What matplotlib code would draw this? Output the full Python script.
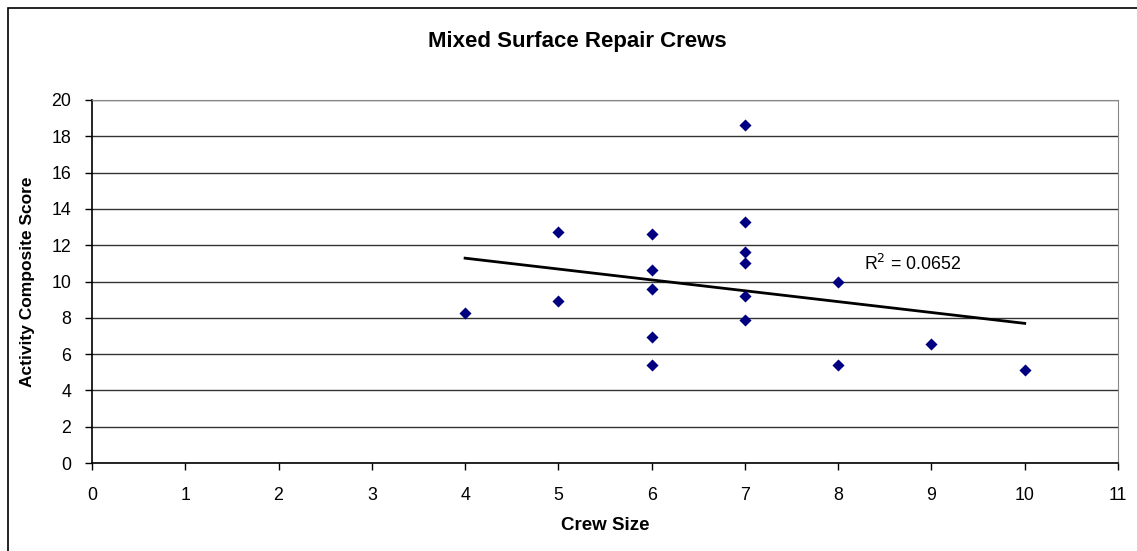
import numpy as np
import matplotlib.pyplot as plt
from matplotlib.patches import Rectangle

plt.rcParams['font.family'] = ['Liberation Sans', 'DejaVu Sans']

# crew size vs. activity composite score
crew_size = [4, 5, 5, 6, 6, 6, 6, 6, 7, 7, 7, 7, 7, 7, 8, 8, 9, 10]
score = [8.25, 12.75, 8.95, 12.6, 10.65, 9.6, 6.95, 5.4,
         18.65, 13.3, 11.6, 11.0, 9.2, 7.9, 9.95, 5.4, 6.55, 5.1]
r2_label = 'R$^2$ = 0.0652'

fig = plt.figure(figsize=(11.37, 5.51), dpi=100)
fig.set_facecolor('white')
ax = fig.add_axes([92 / 1137, 1 - 463 / 551, (1118 - 92) / 1137, 363 / 551])

# outer chart border
fig.patches.append(Rectangle((8 / 1137, -0.1), 1.2, 1 - 8 / 551 + 0.1,
                             transform=fig.transFigure, fill=False,
                             edgecolor='black', linewidth=1.2))

ax.scatter(crew_size, score, marker='D', s=38, color='#000080', zorder=3,
           linewidths=0)

# linear trend line over the range of the data
slope, icept = np.polyfit(crew_size, score, 1)
xs = np.array([min(crew_size), max(crew_size)])
ax.plot(xs, slope * xs + icept, color='black', linewidth=2, zorder=2)
ax.text(8.28, 10.95, r2_label, fontsize=12.8, ha='left', va='center')

ax.set_xlim(0, 11)
ax.set_ylim(0, 20)
ax.set_xticks(range(0, 12))
ax.set_yticks(range(0, 21, 2))
ax.yaxis.grid(True, color='#333333', linewidth=1)
ax.set_axisbelow(True)
ax.tick_params(axis='both', direction='out', length=5, width=1,
               labelsize=12.8, color='black')
ax.tick_params(axis='x', pad=12)
ax.tick_params(axis='y', pad=10)
for side in ['top', 'right']:
    ax.spines[side].set_color('#888888')
for side in ['left', 'bottom']:
    ax.spines[side].set_color('black')
    ax.spines[side].set_linewidth(1.2)

ax.set_xlabel('Crew Size', fontsize=13.5, fontweight='bold', labelpad=10)
ax.set_ylabel('Activity Composite Score', fontsize=12.5, fontweight='bold',
              labelpad=12)
fig.text(577 / 1137, 1 - 42 / 551, 'Mixed Surface Repair Crews',
         fontsize=16, fontweight='bold', ha='center', va='center')

fig.savefig('out.png', dpi=100)
